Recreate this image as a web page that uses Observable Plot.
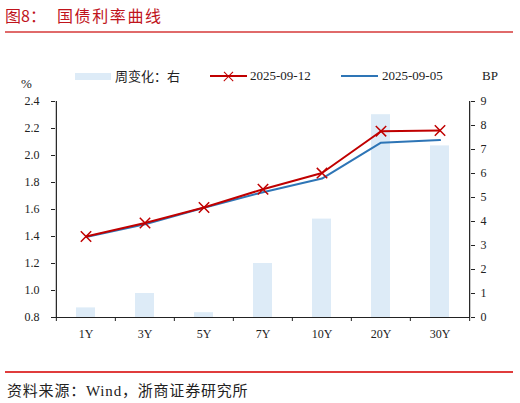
<!DOCTYPE html>
<html>
<head>
<meta charset="utf-8">
<script src="https://cdn.jsdelivr.net/npm/d3@7"></script>
<script src="https://cdn.jsdelivr.net/npm/@observablehq/plot@0.6"></script>
<style>
  html, body { margin: 0; padding: 0; background: #fff; }
  body { width: 520px; height: 403px; position: relative; overflow: hidden;
         font-family: "Liberation Serif", "Times New Roman", "Noto Sans CJK SC", serif; color: #222; }
  .abs { position: absolute; white-space: nowrap; }
  .cjk { font-family: "Noto Sans CJK SC", sans-serif; }
  #chart { position: absolute; left: 0; top: 60px; }
</style>
</head>
<body>
<div id="chart"></div>

<div class="abs cjk" style="left:5px; top:5px; font-size:16px; line-height:20px; color:#C0141C;">图8：</div>
<div class="abs cjk" style="left:57px; top:5px; font-size:16px; line-height:20px; letter-spacing:1.6px; color:#C0141C;">国债利率曲线</div>
<div class="abs" style="left:5px; top:31px; width:508px; height:1.5px; background:#E06A6A;"></div>

<!-- legend -->
<div class="abs" style="left:75px; top:73px; width:36px; height:7px; background:#DDEBF7;"></div>
<div class="abs cjk" style="left:115px; top:67px; font-size:13px; line-height:18px;">周变化：右</div>
<div class="abs" style="left:210px; top:75px; width:37px; height:2px; background:#C00000;"></div>
<div class="abs" style="left:222px; top:75.5px; width:13px; height:1.3px; background:#C00000; transform:rotate(45deg);"></div>
<div class="abs" style="left:222px; top:75.5px; width:13px; height:1.3px; background:#C00000; transform:rotate(-45deg);"></div>
<div class="abs" style="left:250px; top:67px; font-size:13px; line-height:18px;">2025-09-12</div>
<div class="abs" style="left:341px; top:75px; width:37px; height:2px; background:#2E75B6;"></div>
<div class="abs" style="left:382px; top:67px; font-size:13px; line-height:18px;">2025-09-05</div>
<div class="abs" style="left:482px; top:67px; font-size:13px; line-height:18px;">BP</div>
<div class="abs" style="left:21px; top:75px; font-size:13px; line-height:18px;">%</div>

<div class="abs" style="left:5px; top:371px; width:508px; height:1.5px; background:#E03C3C;"></div>
<div class="abs cjk" style="left:7px; top:380px; font-size:15px; line-height:20px; letter-spacing:0.8px;">资料来源：<span style="font-family:'Liberation Serif',serif;">Wind</span>，浙商证券研究所</div>

<script>
const categories = ["1Y", "3Y", "5Y", "7Y", "10Y", "20Y", "30Y"];
const yield20250912 = [1.400, 1.500, 1.615, 1.750, 1.870, 2.180, 2.185];
const yield20250905 = [1.396, 1.490, 1.613, 1.728, 1.829, 2.095, 2.114];
const weeklyChangeBP = [0.4, 1.0, 0.2, 2.25, 4.1, 8.45, 7.15];
const leftTicks = [0.8, 1.0, 1.2, 1.4, 1.6, 1.8, 2.0, 2.2, 2.4];
const rightTicks = [0, 1, 2, 3, 4, 5, 6, 7, 8, 9];

const leftMin = 0.8, leftMax = 2.4, rightMax = 9;
const toLeft = v => leftMin + v * (leftMax - leftMin) / rightMax;
const toRight = y => Math.round((y - leftMin) * rightMax / (leftMax - leftMin));

const rows = categories.map((c, i) => ({
  cat: c, a: yield20250912[i], b: yield20250905[i], bp: weeklyChangeBP[i]
}));

const W = 520, H = 300;
const mL = 55, mR = 50, mT = 41, mB = 43;
const bw = (W - mL - mR) / categories.length;

const chart = Plot.plot({
  width: W, height: H,
  marginLeft: mL, marginRight: mR, marginTop: mT, marginBottom: mB,
  style: { background: "transparent", fontFamily: "'Liberation Serif','Times New Roman',serif", fontSize: "12px", color: "#222" },
  x: { type: "band", domain: categories, padding: 0, axis: null, label: null },
  y: { domain: [leftMin, leftMax], axis: null, label: null },
  marks: [
    Plot.barY(rows, { x: "cat", y1: leftMin, y2: d => toLeft(d.bp), fill: "#DDEBF7", insetLeft: 20, insetRight: 20 }),
    Plot.lineY(rows, { x: "cat", y: "b", stroke: "#2E75B6", strokeWidth: 2 }),
    Plot.lineY(rows, { x: "cat", y: "a", stroke: "#C00000", strokeWidth: 2 }),
    Plot.dot(rows, { x: "cat", y: "a", symbol: "times", r: 4.8, stroke: "#C00000", strokeWidth: 1.5 }),
    // axis lines
    Plot.ruleY([leftMin], { stroke: "#222", strokeWidth: 1.2 }),
    Plot.ruleX([categories[0]], { y1: leftMin, y2: leftMax, dx: -bw / 2, stroke: "#222", strokeWidth: 1.2 }),
    Plot.ruleX([categories[categories.length - 1]], { y1: leftMin, y2: leftMax, dx: bw / 2, stroke: "#222", strokeWidth: 1.2 }),
    // left axis
    Plot.axisY(leftTicks, { anchor: "left", label: null, tickSize: 4, tickPadding: 12, tickFormat: d => d.toFixed(1), fontSize: 12, stroke: "#222" }),
    // right axis
    Plot.axisY(rightTicks.map(toLeft), { anchor: "right", label: null, tickSize: 4, tickPadding: 6, tickFormat: toRight, fontSize: 12, stroke: "#222" }),
    // x labels
    Plot.axisX(categories, { anchor: "bottom", label: null, tickSize: 0, tickPadding: 12, fontSize: 12 }),
    // x boundary tick marks
    Plot.axisX(categories, { anchor: "bottom", label: null, tickSize: 4, dx: -bw / 2, tickFormat: () => "", stroke: "#222" }),
    Plot.axisX([categories[categories.length - 1]], { anchor: "bottom", label: null, tickSize: 4, dx: bw / 2, tickFormat: () => "", stroke: "#222" })
  ]
});
document.getElementById("chart").appendChild(chart);
</script>
</body>
</html>
